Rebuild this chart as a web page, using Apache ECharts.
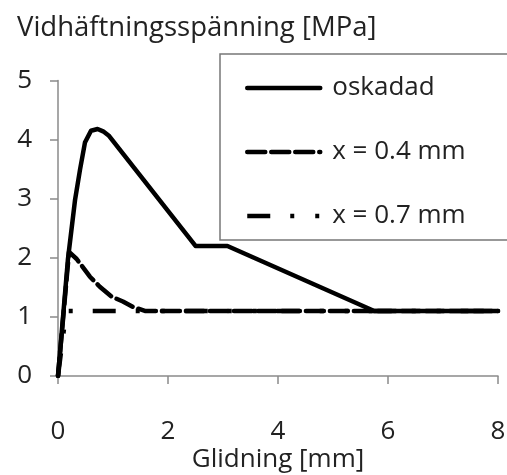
<!DOCTYPE html>
<html>
<head>
<meta charset="utf-8">
<script src="https://cdn.jsdelivr.net/npm/echarts@6/dist/echarts.min.js"></script>
<style>html,body{margin:0;padding:0;background:#fff}#c{width:507px;height:475px}</style>
</head>
<body>
<div id="c"></div>
<script>
const titleText = 'Vidhäftningsspänning [MPa]';
const xName = 'Glidning [mm]';
const seriesNames = ['oskadad', 'x = 0.4 mm', 'x = 0.7 mm'];
const oskadad = [[0,0],[0.18,1.97],[0.31,2.98],[0.4,3.49],[0.49,3.95],[0.6,4.15],[0.72,4.18],[0.82,4.14],[0.92,4.07],[2.5,2.2],[3.08,2.2],[5.75,1.1],[8,1.1]];
const x04 = [[0,0],[0.2,2.1],[0.34,1.98],[0.58,1.68],[0.76,1.51],[0.98,1.34],[1.18,1.26],[1.36,1.17],[1.58,1.1],[8,1.1]];
const x07 = [[0,0],[0.15,1.1],[8,1.1]];
const xTicks = [0, 2, 4, 6, 8];
const yTicks = [0, 1, 2, 3, 4, 5];

const FONT = 'Open Sans';
const chart = echarts.init(document.getElementById('c'));
const axisGray = '#8a8a8a';
chart.setOption({
  animation: false,
  backgroundColor: '#fff',
  title: { text: titleText, left: 12, top: 9, textStyle: { fontFamily: FONT, fontSize: 27.5, fontWeight: 'normal', color: '#222' } },
  grid: { left: 58, right: 9, top: 80.5, bottom: 99, containLabel: false, outerBoundsMode: 'none' },
  legend: {
    orient: 'vertical', left: 220, top: 54,
    padding: [21, 50, 11, 25], itemGap: 38,
    itemWidth: 73, itemHeight: 14,
    borderColor: '#777', borderWidth: 1.5,
    lineStyle: { width: 4.5 },
    itemStyle: { opacity: 0 },
    textStyle: { fontFamily: FONT, fontSize: 26, color: '#222', padding: [0,0,0,7] },
    data: seriesNames
  },
  xAxis: {
    type: 'value', min: xTicks[0], max: xTicks[xTicks.length-1], interval: 2,
    name: xName, nameLocation: 'middle', nameGap: 71, nameMoveOverlap: false,
    nameTextStyle: { fontFamily: FONT, fontSize: 26, color: '#222' },
    axisLine: { lineStyle: { color: axisGray, width: 1.5 } },
    axisTick: { show: true, length: 8, lineStyle: { color: axisGray, width: 1.5 } },
    axisLabel: { fontFamily: FONT, fontSize: 26, color: '#222', margin: 43 },
    splitLine: { show: false }
  },
  yAxis: {
    type: 'value', min: yTicks[0], max: yTicks[yTicks.length-1], interval: 1,
    axisLine: { show: true, lineStyle: { color: axisGray, width: 1.5 } },
    axisTick: { show: true, length: 8, lineStyle: { color: axisGray, width: 1.5 } },
    axisLabel: { fontFamily: FONT, fontSize: 26, color: '#222', margin: 26 },
    splitLine: { show: false }
  },
  series: [
    { name: seriesNames[0], type: 'line', data: oskadad, symbol: 'none', lineStyle: { color: '#000', width: 4.5, type: 'solid', cap: 'round', join: 'round' }, itemStyle: { color: '#000' }, z: 4 },
    { name: seriesNames[1], type: 'line', data: x04, symbol: 'none', lineStyle: { color: '#000', width: 4.5, type: [18, 6], cap: 'round', join: 'round' }, itemStyle: { color: '#000' }, z: 3 },
    { name: seriesNames[2], type: 'line', data: x07, symbol: 'none', lineStyle: { color: '#000', width: 4.5, type: [23, 20, 4, 21, 4, 20], cap: 'butt' }, itemStyle: { color: '#000' }, z: 2 }
  ]
});
</script>
</body>
</html>
